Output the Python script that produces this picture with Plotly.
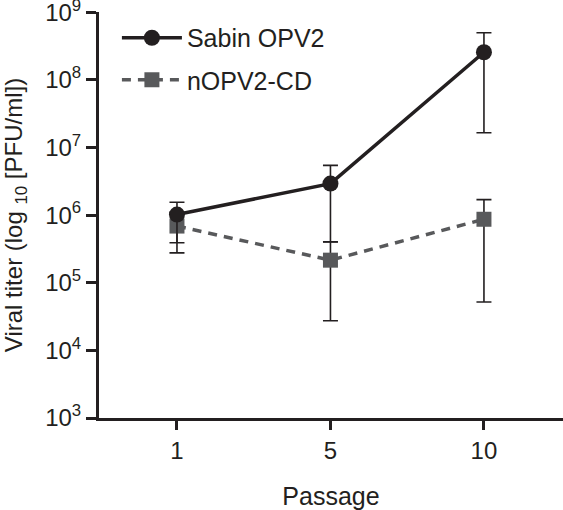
import plotly.graph_objects as go

passages = ["1", "5", "10"]
sabin_mean = [1.02e6, 2.93e6, 2.57e8]
sabin_upper = [1.55e6, 5.46e6, 5.0e8]
sabin_lower = [3.9e5, 4.0e5, 1.66e7]
nopv_mean = [6.9e5, 2.16e5, 8.7e5]
nopv_upper = [1.1e6, 4.05e5, 1.7e6]
nopv_lower = [2.77e5, 2.74e4, 5.2e4]
ytick_vals = [1e3, 1e4, 1e5, 1e6, 1e7, 1e8, 1e9]
ytick_text = ["10<sup>%d</sup>" % e for e in range(3, 10)]

ink = "#231f20"
gray = "#58595b"
font = "Liberation Sans, Arial, sans-serif"

def err(mean, up, lo):
    return dict(type="data", symmetric=False,
                array=[u - m for u, m in zip(up, mean)],
                arrayminus=[m - l for m, l in zip(mean, lo)],
                color=ink, thickness=1.6, width=7.5)

fig = go.Figure()
fig.add_trace(go.Scatter(
    x=passages, y=nopv_mean, name="nOPV2-CD", mode="lines+markers",
    line=dict(color=gray, width=3.5, dash="9px,7px"),
    marker=dict(symbol="square", size=15, color=gray),
    error_y=err(nopv_mean, nopv_upper, nopv_lower),
    legend="legend2", showlegend=True))
fig.add_trace(go.Scatter(
    x=passages, y=sabin_mean, name="Sabin OPV2", mode="lines+markers",
    line=dict(color=ink, width=3.5),
    marker=dict(symbol="circle", size=16, color=ink),
    error_y=err(sabin_mean, sabin_upper, sabin_lower),
    legend="legend", showlegend=True))

leg = dict(xanchor="left", yanchor="middle", bgcolor="rgba(0,0,0,0)",
           font=dict(family=font, size=25, color=ink), itemwidth=60)
fig.update_layout(
    width=563, height=510,
    margin=dict(l=99, r=0, t=12, b=92, pad=0),
    plot_bgcolor="white", paper_bgcolor="white",
    font=dict(family=font, color=ink),
    showlegend=True,
    legend=dict(x=0.0386, y=0.936, **leg),
    legend2=dict(x=0.0386, y=0.8325, **leg),
    xaxis=dict(type="category", range=[-0.508, 2.515], automargin=False,
               showline=True, linecolor=ink, linewidth=3,
               ticks="outside", ticklen=9, tickwidth=3, tickcolor=ink,
               tickfont=dict(size=24, color=ink), showgrid=False, zeroline=False,
               title=dict(text="Passage", font=dict(size=25, color=ink), standoff=25)),
    yaxis=dict(type="log", range=[3, 9.005], tickvals=ytick_vals, ticktext=ytick_text,
               tickmode="array", automargin=False, ticklabeloverflow="allow",
               showline=True, linecolor=ink, linewidth=3,
               ticks="outside", ticklen=10, tickwidth=3, tickcolor=ink,
               tickfont=dict(size=24, color=ink), showgrid=False, zeroline=False,
               title=dict(text="Viral titer (log <sub>10</sub> [PFU/ml])",
                          font=dict(size=24, color=ink), standoff=16)),
)
fig.write_html("out.html", config={"displayModeBar": False},
               post_script="document.body.style.margin='0';document.body.style.overflow='hidden';")
